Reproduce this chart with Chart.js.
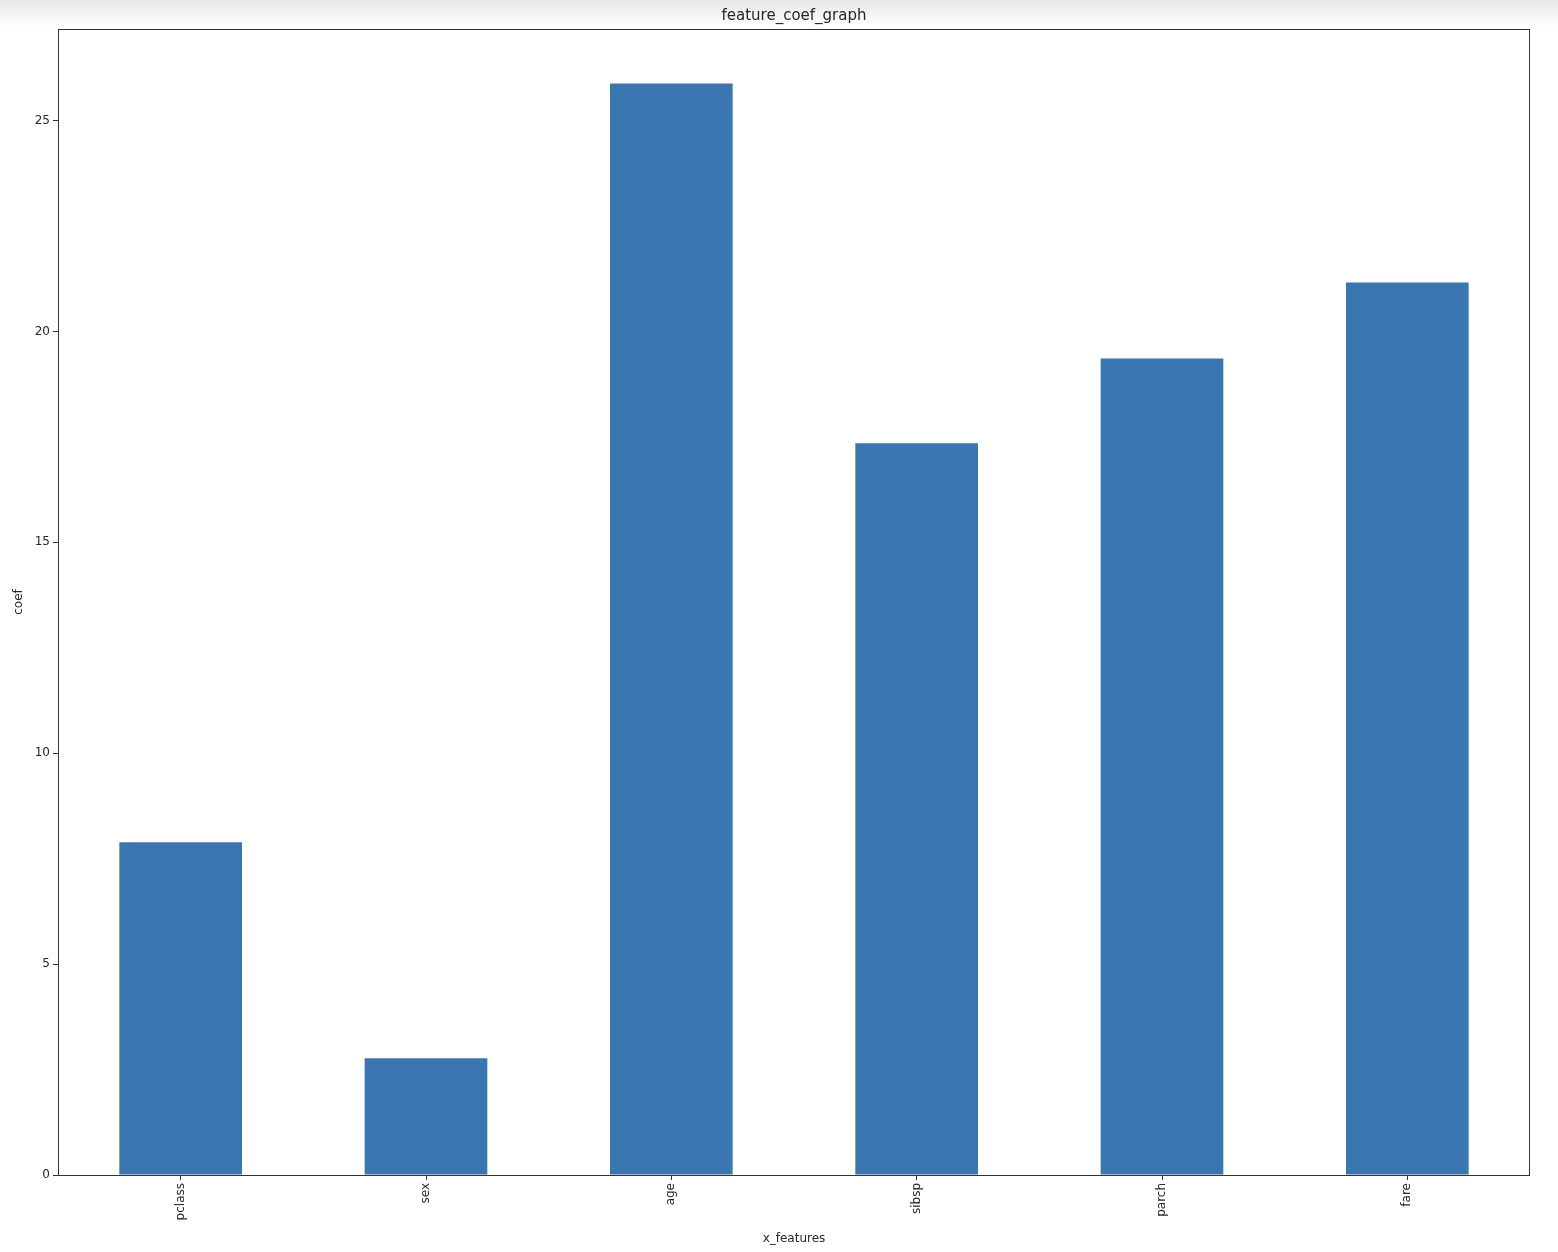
<!DOCTYPE html>
<html>
<head>
<meta charset="utf-8">
<script src="https://cdn.jsdelivr.net/npm/chart.js@4"></script>
<style>
  html, body { margin: 0; padding: 0; }
  body { background: linear-gradient(#e6e6e6 0px, #f7f7f7 18px, #ffffff 26px); }
  #wrap { width: 1558px; height: 1252px; position: relative; }
</style>
</head>
<body>
<div id="wrap"><canvas id="chart"></canvas></div>
<script>
const features = ['pclass', 'sex', 'age', 'sibsp', 'parch', 'fare']
const coefs = [7.89, 2.77, 25.88, 17.35, 19.36, 21.16]
const yTicks = [0, 5, 10, 15, 20, 25]

const textColor = '#262626'
const fontFamily = "'DejaVu Sans', sans-serif"

// matplotlib style frame round the axes
const frame = {
  id: 'frame',
  afterDraw(chart) {
    const { ctx, chartArea } = chart
    ctx.save()
    ctx.strokeStyle = '#333333'
    ctx.lineWidth = 1
    ctx.strokeRect(chartArea.left + 0.5, chartArea.top + 0.5,
      chartArea.right - chartArea.left - 1, chartArea.bottom - chartArea.top)
    ctx.restore()
  }
}

const canvas = document.getElementById('chart')
const chartC = new Chart(canvas, {
  type: 'bar',
  data: {
    labels: features,
    datasets: [
      {
        label: 'coef',
        data: coefs,
        backgroundColor: '#3a76b0',
        borderWidth: 0,
        barPercentage: 0.5,
        categoryPercentage: 1.0,
      },
    ],
  },
  options: {
    responsive: true,
    maintainAspectRatio: false,
    animation: false,
    layout: { padding: { left: 0, right: 28, top: 0, bottom: 0 } },
    plugins: {
      legend: { display: false },
      tooltip: { enabled: false },
      title: {
        display: true,
        text: 'feature_coef_graph',
        fullSize: false,
        color: textColor,
        font: { family: fontFamily, size: 15, weight: 'normal', lineHeight: 1.2 },
        padding: { top: 7, bottom: 4 },
      },
    },
    scales: {
      x: {
        offset: true,
        grid: { display: true, offset: false, drawOnChartArea: false, tickLength: 5, color: '#333333', tickColor: '#333333' },
        border: { display: false },
        ticks: {
          minRotation: 90,
          maxRotation: 90,
          padding: 3,
          color: textColor,
          font: { family: fontFamily, size: 12 },
        },
        title: {
          display: true,
          text: 'x_features',
          color: textColor,
          font: { family: fontFamily, size: 12 },
          padding: { top: 0, bottom: 6 },
        },
        afterFit(scale) { scale.height = 77 },
      },
      y: {
        min: 0,
        max: 27.17,
        afterBuildTicks(scale) { scale.ticks = yTicks.map(v => ({ value: v })) },
        grid: { display: true, drawOnChartArea: false, tickLength: 5, color: '#333333', tickColor: '#333333' },
        border: { display: false },
        ticks: {
          padding: 3,
          color: textColor,
          font: { family: fontFamily, size: 12 },
        },
        title: {
          display: true,
          text: 'coef',
          color: textColor,
          font: { family: fontFamily, size: 12 },
          padding: { top: 12, bottom: 0 },
        },
        afterFit(scale) { scale.width = 58 },
      },
    },
  },
  plugins: [frame],
})
</script>
</body>
</html>
